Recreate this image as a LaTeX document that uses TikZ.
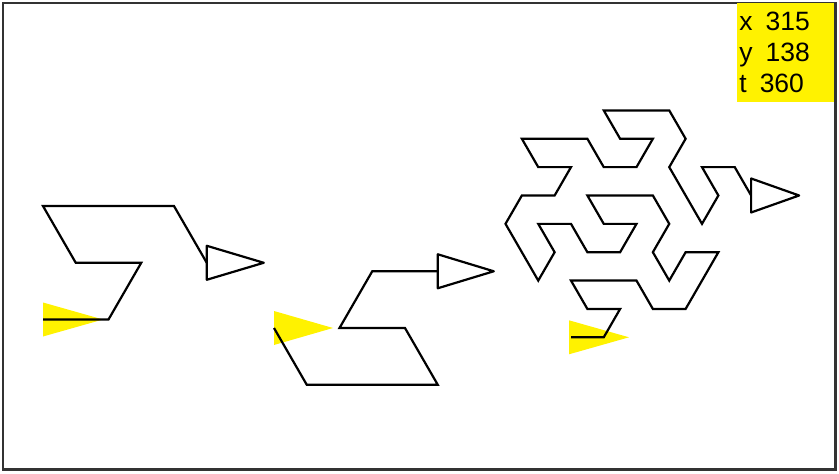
\documentclass[tikz,border=0pt]{standalone}
\usepackage{fontspec}
\setmainfont{Liberation Sans}

% one flowsnake step of each kind: heading, segment length
\newcommand{\gosA}[2]{-- ++(#1:#2) -- ++(#1+60:#2) -- ++(#1+180:#2) -- ++(#1+120:#2) -- ++(#1:#2) -- ++(#1:#2) -- ++(#1-60:#2)}
\newcommand{\gosB}[2]{-- ++(#1-60:#2) -- ++(#1:#2) -- ++(#1:#2) -- ++(#1+120:#2) -- ++(#1+180:#2) -- ++(#1+60:#2) -- ++(#1:#2)}

\tikzset{
  curve/.style={draw=black, line width=2.2pt, line join=miter},
  home/.style={fill=yellow, draw=none},
  turtle/.style={fill=white, draw=black, line width=2.2pt, line join=round},
  readout/.style={fill=yellow, anchor=north west, minimum width=97pt, minimum height=98.7pt,
    inner xsep=2.5pt, inner ysep=0pt, text width=92pt, align=left,
    font={\fontsize{26.5}{30.7}\selectfont},
    execute at begin node={\spaceskip=13pt\relax}}
}

\begin{document}
\begin{tikzpicture}[x=1pt, y=1pt]
\useasboundingbox (0,0) rectangle (839,-474);
\draw[line width=2.2pt, black!80] (3,-3) rectangle (835.5,-469.5);
\node[readout] (readout) at (736.7,-3) {x 315\\y 138\\t 360};

\coordinate (start1) at (43,-319.5);
\coordinate (start2) at (274,-328);
\coordinate (start3) at (571,-337.3);

% where the turtle set out
\fill[home, shift={(start1)}] (0,17) -- (60,0) -- (0,-17) -- cycle;
\fill[home, shift={(start2)}] (0,17) -- (59,0) -- (0,-17) -- cycle;
\fill[home, shift={(start3)}] (-2,17) -- (58,0) -- (-2,-17) -- cycle;

\draw[curve] (start1) \gosA{0}{65.5pt} coordinate (end1);
\draw[curve] (start2) \gosB{0}{65.5pt} coordinate (end2);
\draw[curve] (start3) \gosA{0}{32.75pt} \gosB{60}{32.75pt} \gosB{180}{32.75pt} \gosA{120}{32.75pt}
  \gosA{0}{32.75pt} \gosA{0}{32.75pt} \gosB{-60}{32.75pt} coordinate (end3);

% where it stopped
\filldraw[turtle, shift={(end1)}] (0,17) -- (57,0) -- (0,-17) -- cycle;
\filldraw[turtle, shift={(end2)}] (0,17) -- (56,0) -- (0,-17) -- cycle;
\filldraw[turtle, shift={(end3)}] (0,17) -- (48,0) -- (0,-17) -- cycle;
\end{tikzpicture}
\end{document}
